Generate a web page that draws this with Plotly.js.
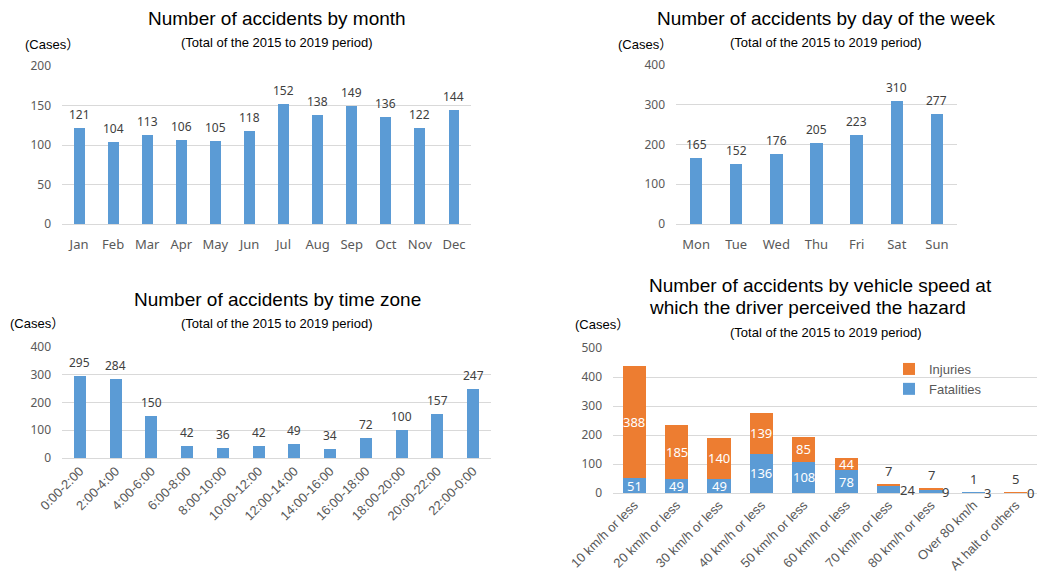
<!DOCTYPE html>
<html>
<head>
<meta charset="utf-8">
<script src="https://cdn.plot.ly/plotly-3.0.1.min.js"></script>
<style>
  html, body { margin: 0; padding: 0; background: #fff; }
  #chart { width: 1037px; height: 574px; }
</style>
</head>
<body>
<div id="chart"></div>
<script>
// Accidents, totals for 2015-2019
const months = ['Jan', 'Feb', 'Mar', 'Apr', 'May', 'Jun', 'Jul', 'Aug', 'Sep', 'Oct', 'Nov', 'Dec'];
const monthCounts = [121, 104, 113, 106, 105, 118, 152, 138, 149, 136, 122, 144];

const weekdays = ['Mon', 'Tue', 'Wed', 'Thu', 'Fri', 'Sat', 'Sun'];
const weekdayCounts = [165, 152, 176, 205, 223, 310, 277];

const timeZones = ['0:00-2:00', '2:00-4:00', '4:00-6:00', '6:00-8:00', '8:00-10:00', '10:00-12:00',
  '12:00-14:00', '14:00-16:00', '16:00-18:00', '18:00-20:00', '20:00-22:00', '22:00-0:00'];
const timeZoneCounts = [295, 284, 150, 42, 36, 42, 49, 34, 72, 100, 157, 247];

const speedBands = ['10 km/h or less', '20 km/h or less', '30 km/h or less', '40 km/h or less',
  '50 km/h or less', '60 km/h or less', '70 km/h or less', '80 km/h or less', 'Over 80 km/h', 'At halt or others'];
const fatalities = [51, 49, 49, 136, 108, 78, 24, 9, 3, 0];
const injuries = [388, 185, 140, 139, 85, 44, 7, 7, 1, 5];

const chartTitles = ['Number of accidents by month', 'Number of accidents by day of the week',
  'Number of accidents by time zone'];
const speedTitleLines = ['Number of accidents by vehicle speed at', 'which the driver perceived the hazard'];
const periodNote = '(Total of the 2015 to 2019 period)';
const unitLabel = '(Cases\uFF09';

// ---- styling ----
const W = 1037, H = 574;
const BLUE = '#5B9BD5', ORANGE = '#ED7D31', GRID = '#D9D9D9', TICK = '#595959', LABEL = '#404040';
const SANS = '"Noto Sans", "Open Sans", sans-serif';
const ARIAL = '"Liberation Sans", Arial, "Noto Sans CJK JP", sans-serif';
const px = x => x / W;
const py = y => 1 - y / H;

function yAxis(top, bottom, max, dtick, anchor) {
  return {
    domain: [py(bottom), py(top)], range: [0, max], dtick: dtick, tick0: 0,
    showgrid: true, gridcolor: GRID, gridwidth: 1,
    zeroline: true, zerolinecolor: GRID, zerolinewidth: 1,
    showline: false, ticks: '', ticklabelstandoff: 10,
    tickfont: { family: SANS, size: 12, color: TICK },
    anchor: anchor, fixedrange: true
  };
}
function xAxis(left, right, anchor, font, angle, standoff) {
  return {
    domain: [px(left), px(right)], type: 'category', anchor: anchor,
    showgrid: false, zeroline: false, showline: false, ticks: '',
    tickangle: angle, ticklabelstandoff: standoff,
    tickfont: font, fixedrange: true
  };
}

function simpleBar(x, y, axX, axY, width) {
  return {
    type: 'bar', x: x, y: y, xaxis: axX, yaxis: axY, width: width,
    marker: { color: BLUE, line: { width: 0 } },
    showlegend: false, hoverinfo: 'x+y'
  };
}

const traces = [
  simpleBar(months, monthCounts, 'x', 'y', 0.32),
  simpleBar(weekdays, weekdayCounts, 'x2', 'y2', 0.31),
  simpleBar(timeZones, timeZoneCounts, 'x3', 'y3', 0.33),
  {
    type: 'bar', name: 'Fatalities', x: speedBands, y: fatalities, xaxis: 'x4', yaxis: 'y4',
    width: 0.55, marker: { color: BLUE, line: { width: 0 } }, hoverinfo: 'x+y+name'
  },
  {
    type: 'bar', name: 'Injuries', x: speedBands, y: injuries, xaxis: 'x4', yaxis: 'y4',
    width: 0.55, marker: { color: ORANGE, line: { width: 0 } }, hoverinfo: 'x+y+name'
  }
];

const annotations = [];

// value labels above the single-series bars
function valueLabels(cats, vals, axX, axY) {
  cats.forEach((c, i) => {
    annotations.push({
      text: String(vals[i]), xref: axX, yref: axY, x: c, y: vals[i],
      xanchor: 'center', yanchor: 'bottom', yshift: 3, showarrow: false,
      font: { family: SANS, size: 12, color: LABEL }
    });
  });
}
valueLabels(months, monthCounts, 'x', 'y');
valueLabels(weekdays, weekdayCounts, 'x2', 'y2');
valueLabels(timeZones, timeZoneCounts, 'x3', 'y3');

// titles, notes and unit captions
function note(text, x, y, size, anchor, color) {
  annotations.push({
    text: text, xref: 'paper', yref: 'paper', x: px(x), y: py(y),
    xanchor: anchor, yanchor: 'middle', showarrow: false,
    font: { family: ARIAL, size: size, color: color || '#000' }
  });
}
note(chartTitles[0], 277, 19, 19, 'center');
note(periodNote, 277, 43, 13, 'center');
note(unitLabel, 23, 44, 13, 'left');

note(chartTitles[1], 826, 19, 19, 'center');
note(periodNote, 826, 43, 13, 'center');
note(unitLabel, 616, 44, 13, 'left');

note(chartTitles[2], 277, 299, 19, 'center');
note(periodNote, 277, 323, 13, 'center');
note(unitLabel, 8, 323, 13, 'left');

note(speedTitleLines[0], 647, 285, 19, 'left');
note(speedTitleLines[1], 647, 307, 19, 'left');
note(periodNote, 826, 332, 13, 'center');
note(unitLabel, 573, 324, 13, 'left');

// value labels on the stacked speed bars
const INSIDE_MIN = 30;
speedBands.forEach((band, i) => {
  const f = fatalities[i], inj = injuries[i];
  if (f >= INSIDE_MIN) {
    annotations.push({ text: String(f), xref: 'x4', yref: 'y4', x: band, y: f / 2,
      xanchor: 'center', yanchor: 'middle', showarrow: false,
      font: { family: SANS, size: 13, color: '#fff' } });
  } else {
    annotations.push({ text: String(f), xref: 'x4', yref: 'y4', x: band, y: f / 2,
      xanchor: 'left', yanchor: 'middle', xshift: 9, showarrow: false,
      font: { family: SANS, size: 13, color: LABEL } });
  }
  if (inj >= INSIDE_MIN) {
    annotations.push({ text: String(inj), xref: 'x4', yref: 'y4', x: band, y: f + inj / 2,
      xanchor: 'center', yanchor: 'middle', showarrow: false,
      font: { family: SANS, size: 13, color: '#fff' } });
  } else {
    annotations.push({ text: String(inj), xref: 'x4', yref: 'y4', x: band, y: f + inj,
      xanchor: 'center', yanchor: 'bottom', yshift: 2, showarrow: false,
      font: { family: SANS, size: 13, color: LABEL } });
  }
});

const layout = {
  width: W, height: H,
  margin: { l: 0, r: 0, t: 0, b: 0 },
  paper_bgcolor: '#fff', plot_bgcolor: '#fff',
  barmode: 'stack',
  showlegend: true,
  legend: {
    x: px(889), y: py(354), xanchor: 'left', yanchor: 'top',
    traceorder: 'reversed', bgcolor: 'rgba(0,0,0,0)',
    font: { family: ARIAL, size: 13, color: TICK },
    itemwidth: 30
  },
  xaxis: xAxis(62, 471, 'y', { family: SANS, size: 13, color: TICK }, 0, 11),
  yaxis: yAxis(66, 224, 200, 50, 'x'),
  xaxis2: xAxis(676, 957, 'y2', { family: SANS, size: 13, color: TICK }, 0, 11),
  yaxis2: yAxis(65, 224, 400, 100, 'x2'),
  xaxis3: xAxis(62, 491, 'y3', { family: ARIAL, size: 13, color: TICK }, -45, 2),
  yaxis3: yAxis(347, 458, 400, 100, 'x3'),
  xaxis4: xAxis(613, 1037, 'y4', { family: ARIAL, size: 13, color: TICK }, -45, 1),
  yaxis4: yAxis(348, 493, 500, 100, 'x4'),
  annotations: annotations
};

Plotly.newPlot('chart', traces, layout, { displayModeBar: false, responsive: false, staticPlot: true });
</script>
</body>
</html>
